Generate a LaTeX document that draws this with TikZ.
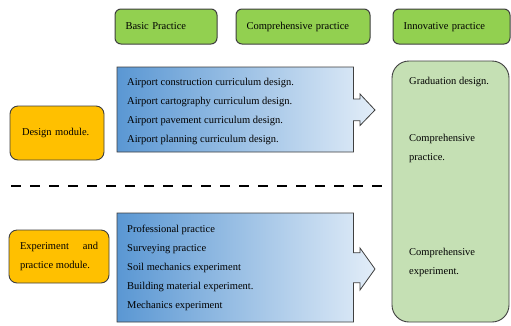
\documentclass[tikz,border=0pt]{standalone}
\usepackage{fontspec}
\setmainfont{Liberation Serif}
\usepackage{tikz}

\definecolor{stagegreen}{HTML}{92D050}
\definecolor{resultgreen}{HTML}{C5E0B4}
\definecolor{moduleorange}{HTML}{FFC000}
\definecolor{listblue}{HTML}{5A97D3}
\definecolor{listpale}{HTML}{E2EDF8}
\definecolor{edgegray}{HTML}{3F3F3F}

\begin{document}
\begin{tikzpicture}[x=1pt,y=-1pt,
    stage_node/.style={draw=edgegray,line width=1pt,fill=stagegreen,rounded corners=6pt,
        minimum height=35pt,inner sep=0pt,align=left,text height=7.5pt,text depth=2.5pt,
        font=\fontsize{10.5}{19}\selectfont},
    module_node/.style={draw=edgegray,line width=0.9pt,fill=moduleorange,rounded corners=8pt,
        inner sep=0pt,font=\fontsize{10.5}{19}\selectfont},
    list_text/.style={inner sep=0pt,align=left,font=\fontsize{10.5}{19}\selectfont},
    list_shape/.style={draw=edgegray,line width=0.8pt,left color=listblue,right color=listpale}]
\useasboundingbox (0,0) rectangle (511,325);

    % stages
    \node[stage_node, minimum width=102pt, text width=81pt] (basic) at (166,26.5) {Basic Practice};
    \node[stage_node, minimum width=134pt, text width=113pt] (comp) at (303,26.5) {Comprehensive practice};
    \node[stage_node, minimum width=117pt, text width=96pt] (innov) at (451.5,26.5) {Innovative practice};

    % modules
    \node[module_node, minimum width=94pt, minimum height=54pt, text width=70pt, align=left] (design) at (57,133) {Design module.};
    \node[module_node, minimum width=100pt, minimum height=53pt, text width=78pt, align=justify] (exper) at (59,256.5) {Experiment and practice module.};

    % course lists with arrow callouts
    \draw[list_shape] (117,67) -- (353.5,67) -- (353.5,99) -- (360,99) -- (360,94) -- (375,110)
        -- (360,125.5) -- (360,120.7) -- (353.5,120.7) -- (353.5,152) -- (117,152) -- cycle;
    \draw[list_shape] (117,213) -- (353.5,213) -- (353.5,252.7) -- (360,252.7) -- (360,248) -- (375,269)
        -- (360,290) -- (360,282.7) -- (353.5,282.7) -- (353.5,322) -- (117,322) -- cycle;

    % base = last line
    \node[list_text, anchor=base west] (design_list) at (127,142.7) {Airport construction curriculum design.\\
        Airport cartography curriculum design.\\ Airport pavement curriculum design.\\
        Airport planning curriculum design.};
    \node[list_text, anchor=base west] (exper_list) at (127,308.7) {Professional practice\\
        Surveying practice\\ Soil mechanics experiment\\ Building material experiment.\\
        Mechanics experiment};

    % divider
    \coordinate (cut_l) at (11,186);
    \coordinate (cut_r) at (386,186);
    \draw[line width=2.5pt, dash pattern=on 10pt off 9pt] (cut_l) -- (cut_r);

    % innovative results
    \node[draw=edgegray, line width=0.9pt, fill=resultgreen, rounded corners=17pt,
        minimum width=117pt, minimum height=261pt] (result) at (450.5,191.5) {};
    \node[list_text, anchor=base west] (result_list) at (409,274) {Graduation design.\\ \mbox{}\\ \mbox{}\\
        Comprehensive\\ practice.\\ \mbox{}\\ \mbox{}\\ \mbox{}\\ \mbox{}\\ Comprehensive\\ experiment.};

\end{tikzpicture}
\end{document}
